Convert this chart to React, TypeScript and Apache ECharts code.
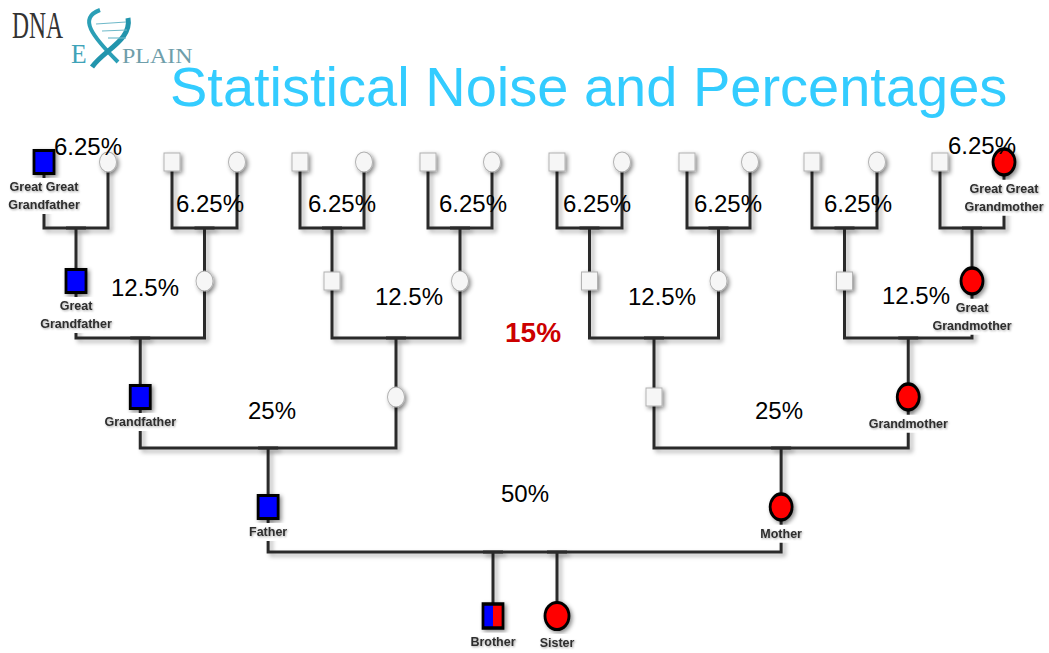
import React, { useEffect, useRef } from "react";
import * as echarts from "echarts";

// ---- Data ----
const TITLE = "Statistical Noise and Percentages";
// x positions of the 16 great-great-grandparents (generation 4), left to right
const LEAF_X = [44, 108, 172, 237, 300, 364, 428, 492, 557, 622, 687, 750, 812, 877, 940, 1004];
// y of each generation row: 0 = siblings, 1 = parents, 2 = grandparents, 3 = great, 4 = great great
const ROW_Y = [616, 507, 397, 281, 162];
// y of the couple bar joining generation g+1 to generation g
const BAR_Y = [552, 448, 338, 228];
const SIBLING_X = [493, 557];
const SIBLING_NAMES = ["Brother", "Sister"];
const NAMED: Record<string, string> = {
  "4-0": "Great Great\nGrandfather",
  "4-15": "Great Great\nGrandmother",
  "3-0": "Great\nGrandfather",
  "3-7": "Great\nGrandmother",
  "2-0": "Grandfather",
  "2-3": "Grandmother",
  "1-0": "Father",
  "1-1": "Mother",
};
// percentage annotations: [text, x, y]
const PCT_LABELS: [string, number, number][] = [
  ["6.25%", 88, 146],
  ["6.25%", 210, 203],
  ["6.25%", 342, 203],
  ["6.25%", 473, 203],
  ["6.25%", 597, 203],
  ["6.25%", 728, 203],
  ["6.25%", 858, 203],
  ["6.25%", 982, 145],
  ["12.5%", 145, 287],
  ["12.5%", 409, 296],
  ["12.5%", 662, 296],
  ["12.5%", 916, 295],
  ["25%", 272, 410],
  ["25%", 779, 410],
  ["50%", 525, 493],
];
const HIGHLIGHT = ["15%", 533, 332] as [string, number, number];

const W = 1049;
const H = 653;
const FONT = '"Liberation Sans", Arial, sans-serif';
const BLUE = "#0000ff";
const RED = "#ff0000";
const ELLIPSE = "path://M0,1 A1,1 0 1,1 2,1 A1,1 0 1,1 0,1 Z";

function buildTree() {
  const xs: number[][] = [];
  xs[4] = LEAF_X;
  for (let g = 3; g >= 1; g--) {
    xs[g] = [];
    for (let i = 0; i < xs[g + 1].length / 2; i++) {
      xs[g][i] = (xs[g + 1][2 * i] + xs[g + 1][2 * i + 1]) / 2;
    }
  }
  xs[0] = SIBLING_X;
  return xs;
}

export default function App() {
  const ref = useRef<HTMLDivElement>(null);

  useEffect(() => {
    if (!ref.current) return;
    const chart = echarts.init(ref.current, undefined, { renderer: "svg" });
    const xs = buildTree();

    const shadow = {
      shadowColor: "rgba(0,0,0,0.45)",
      shadowBlur: 4,
      shadowOffsetX: 2,
      shadowOffsetY: 2,
    };
    const nameLabel = (text: string) => ({
      show: true,
      position: "bottom",
      distance: 3,
      formatter: text,
      fontFamily: FONT,
      fontSize: 12.5,
      fontWeight: "bold",
      color: "#2e2e2e",
      opacity: 1,
      lineHeight: 18,
      backgroundColor: "#fff",
      padding: [0, 1],
      textShadowColor: "rgba(0,0,0,0.35)",
      textShadowBlur: 2,
      textShadowOffsetX: 1,
      textShadowOffsetY: 1,
    });

    const nodes: any[] = [];
    for (let g = 1; g <= 4; g++) {
      const n = xs[g].length;
      xs[g].forEach((x, i) => {
        const male = i % 2 === 0;
        const direct = i === 0 || i === n - 1;
        const fill = i === 0 ? BLUE : i === n - 1 ? RED : "#f6f6f6";
        const size = direct ? (male ? [20, 23] : [22, 26]) : male ? [16, 18] : [17, 20];
        const label = NAMED[`${g}-${i}`];
        nodes.push({
          value: [x, ROW_Y[g]],
          symbol: male ? "rect" : ELLIPSE,
          symbolSize: size,
          itemStyle: {
            color: fill,
            opacity: 1,
            borderColor: direct ? "#000" : "#b0b0b0",
            borderWidth: direct ? 3 : 1,
            ...shadow,
          },
          label: label ? nameLabel(label) : { show: false },
        });
      });
    }
    // siblings
    SIBLING_X.forEach((x, i) => {
      const male = i === 0;
      nodes.push({
        value: [x, ROW_Y[0]],
        symbol: male ? "rect" : ELLIPSE,
        symbolSize: male ? [20, 24] : [24, 27],
        itemStyle: {
          color: male
            ? new echarts.graphic.LinearGradient(0, 0, 1, 0, [
                { offset: 0, color: BLUE },
                { offset: 0.5, color: BLUE },
                { offset: 0.5, color: RED },
                { offset: 1, color: RED },
              ])
            : RED,
          opacity: 1,
          borderColor: "#000",
          borderWidth: 3,
          ...shadow,
        },
        label: nameLabel(SIBLING_NAMES[i]),
      });
    });

    // connectors: drops first, couple bars drawn over them
    const drops: any[] = [];
    const bars: any[] = [];
    // a drop runs from a couple bar down to the child; it retraces a short piece
    // of the bar so that its bounding box is not zero-width (keeps the shadow filter visible)
    const drop = (x: number, bar: number, childY: number) => ({
      coords: [[x, childY], [x, bar], [x - 10, bar], [x + 10, bar]],
    });
    for (let g = 1; g <= 3; g++) {
      xs[g].forEach((xc, i) => {
        const xl = xs[g + 1][2 * i];
        const xr = xs[g + 1][2 * i + 1];
        const yTop = ROW_Y[g + 1];
        const bar = BAR_Y[g];
        bars.push({ coords: [[xl, yTop], [xl, bar], [xr, bar], [xr, yTop]] });
        drops.push(drop(xc, bar, ROW_Y[g]));
      });
    }
    bars.push({
      coords: [
        [xs[1][0], ROW_Y[1]],
        [xs[1][0], BAR_Y[0]],
        [xs[1][1], BAR_Y[0]],
        [xs[1][1], ROW_Y[1]],
      ],
    });
    SIBLING_X.forEach((x) => drops.push(drop(x, BAR_Y[0], ROW_Y[0])));
    const links = [...drops, ...bars];

    const pctData: any[] = PCT_LABELS.map(([t, x, y]) => ({ value: [x, y, t] }));
    pctData.push({
      value: [HIGHLIGHT[1], HIGHLIGHT[2], HIGHLIGHT[0]],
      label: { fontWeight: "bold", fontSize: 28, color: "#cc0000" },
    });

    chart.setOption({
      animation: false,
      backgroundColor: "#fff",
      grid: { left: 0, right: 0, top: 0, bottom: 0 },
      xAxis: { type: "value", min: 0, max: W, show: false },
      yAxis: { type: "value", min: 0, max: H, inverse: true, show: false },
      graphic: [
        {
          type: "text",
          x: 170,
          y: 86,
          z: 10,
          style: {
            text: TITLE,
            font: `normal 56px ${FONT}`,
            fill: "#33ccff",
            verticalAlign: "middle",
          },
        },
        {
          type: "text",
          x: 12,
          y: 25,
          scaleX: 0.62,
          style: {
            text: "DNA",
            font: 'normal 38px "Liberation Serif", serif',
            fill: "#333",
            verticalAlign: "middle",
          },
        },
        {
          type: "text",
          x: 71,
          y: 54,
          scaleX: 0.95,
          style: {
            text: "E",
            font: 'normal 27px "Liberation Serif", serif',
            fill: "#3fa3b8",
            verticalAlign: "middle",
          },
        },
        {
          type: "text",
          x: 122,
          y: 56,
          scaleX: 1.2,
          style: {
            text: "PLAIN",
            font: 'normal 20px "Liberation Serif", serif',
            fill: "#6f9eaa",
            verticalAlign: "middle",
          },
        },
        {
          type: "bezierCurve",
          shape: { x1: 100, y1: 10, cpx1: 78, cpy1: 18, cpx2: 92, cpy2: 36, x2: 118, y2: 62 },
          style: { stroke: "#2b9fb6", lineWidth: 4, fill: "none" },
        },
        {
          type: "bezierCurve",
          shape: { x1: 128, y1: 18, cpx1: 132, cpy1: 40, cpx2: 104, cpy2: 50, x2: 92, y2: 67 },
          style: { stroke: "#2295ad", lineWidth: 5, fill: "none" },
        },
        {
          type: "line",
          shape: { x1: 96, y1: 24, x2: 126, y2: 22 },
          style: { stroke: "#6fb9c9", lineWidth: 1.2 },
        },
        {
          type: "line",
          shape: { x1: 102, y1: 31, x2: 127, y2: 30 },
          style: { stroke: "#6fb9c9", lineWidth: 1.2 },
        },
        {
          type: "line",
          shape: { x1: 108, y1: 38, x2: 126, y2: 38 },
          style: { stroke: "#6fb9c9", lineWidth: 1.2 },
        },
      ],
      series: [
        {
          type: "lines",
          coordinateSystem: "cartesian2d",
          polyline: true,
          silent: true,
          z: 1,
          lineStyle: {
            color: "#2b2b2b",
            width: 3,
            opacity: 1,
            shadowColor: "rgba(0,0,0,0.3)",
            shadowBlur: 4,
            shadowOffsetX: 3,
            shadowOffsetY: 3,
          },
          data: links,
        },
        {
          type: "scatter",
          z: 3,
          silent: true,
          itemStyle: { opacity: 1 },
          data: nodes,
        },
        {
          type: "scatter",
          z: 5,
          silent: true,
          symbolSize: 1,
          itemStyle: { color: "rgba(0,0,0,0)", opacity: 1 },
          label: {
            show: true,
            position: "inside",
            formatter: (p: any) => p.value[2],
            fontFamily: FONT,
            fontSize: 24,
            color: "#000",
            opacity: 1,
          },
          data: pctData,
        },
      ],
    });
    return () => chart.dispose();
  }, []);

  return (
    <div
      ref={ref}
      style={{ position: "fixed", left: 0, top: 0, width: W, height: H, background: "#fff" }}
    />
  );
}
